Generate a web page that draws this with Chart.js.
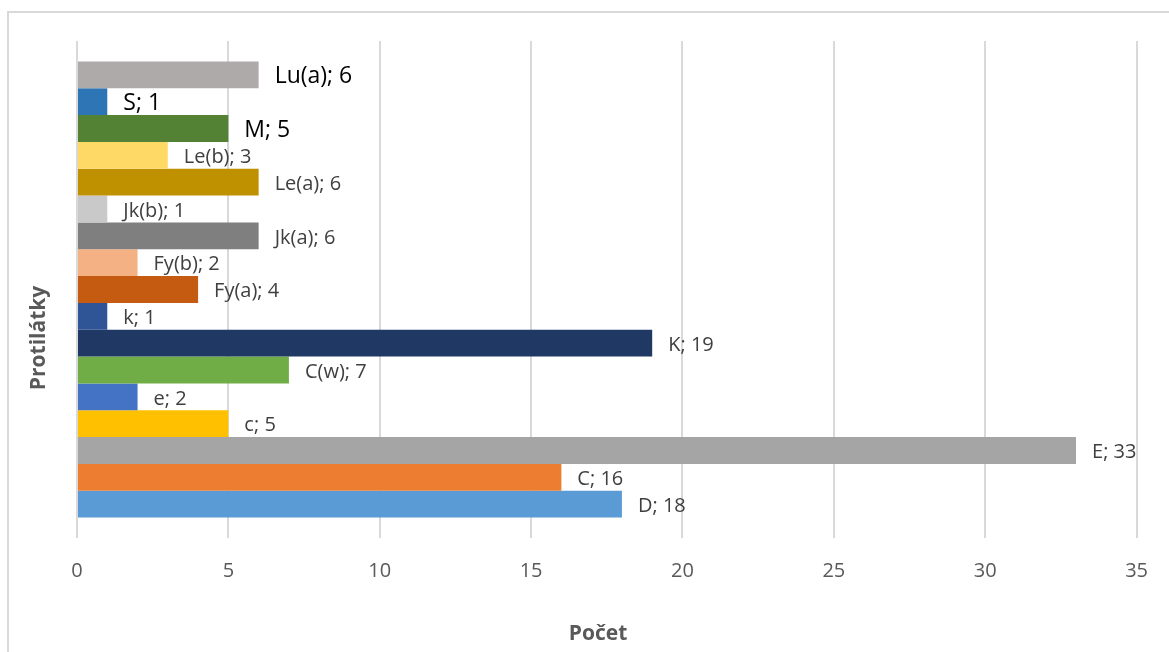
<!DOCTYPE html>
<html>
<head>
<meta charset="utf-8">
<script src="https://cdn.jsdelivr.net/npm/chart.js@4/dist/chart.umd.min.js"></script>
<style>
  html, body { margin: 0; padding: 0; background: #fff; }
  #wrap { width: 1169px; height: 652px; }
</style>
</head>
<body>
<div id="wrap"><canvas id="chart" width="1169" height="652"></canvas></div>
<script>
// DATA (Excel series order, bottom bar first)
const antibodies = ['D', 'C', 'E', 'c', 'e', 'C(w)', 'K', 'k', 'Fy(a)', 'Fy(b)', 'Jk(a)', 'Jk(b)', 'Le(a)', 'Le(b)', 'M', 'S', 'Lu(a)'];
const counts = [18, 16, 33, 5, 2, 7, 19, 1, 4, 2, 6, 1, 6, 3, 5, 1, 6];
const xTicks = [0, 5, 10, 15, 20, 25, 30, 35];

// colours, one per series
const barColors = ['#5B9BD5', '#ED7D31', '#A5A5A5', '#FFC000', '#4472C4', '#70AD47', '#203864', '#2F5597',
                   '#C55A11', '#F4B183', '#7F7F7F', '#C9C9C9', '#BF9000', '#FFD966', '#548235', '#2E75B6', '#AEAAAA'];
// labels that were enlarged in the original
const bigLabels = ['Lu(a)', 'S', 'M'];

const FONT = '"Open Sans", "Liberation Sans", sans-serif';

// Chart.js stacks grouped bars from the top, so reverse to keep D at the bottom
const datasets = antibodies.map((name, i) => ({
    label: name,
    data: [counts[i]],
    backgroundColor: barColors[i],
    borderWidth: 0
})).reverse();

// BORDER + AXIS TITLES + DATA LABELS
const decorPlugin = {
    id: 'decor',
    beforeDraw(chart) {
        const ctx = chart.ctx;
        ctx.save();
        ctx.fillStyle = '#fff';
        ctx.fillRect(0, 0, chart.width, chart.height);
        ctx.strokeStyle = '#D9D9D9';
        ctx.lineWidth = 2;
        ctx.strokeRect(8, 12, chart.width + 20, chart.height + 20);
        ctx.restore();
    },
    afterDraw(chart) {
        const ctx = chart.ctx;
        ctx.save();
        ctx.fillStyle = '#595959';
        ctx.font = 'bold 21px ' + FONT;
        ctx.textAlign = 'center';
        ctx.textBaseline = 'middle';
        ctx.fillText('Počet', 598, 634);
        ctx.translate(39, 338);
        ctx.rotate(-Math.PI / 2);
        ctx.fillText('Protilátky', 0, 0);
        ctx.restore();
    },
    afterDatasetsDraw(chart) {
        const ctx = chart.ctx;
        ctx.save();
        ctx.textAlign = 'left';
        ctx.textBaseline = 'middle';
        chart.data.datasets.forEach((ds, i) => {
            const bar = chart.getDatasetMeta(i).data[0];
            const big = bigLabels.includes(ds.label);
            ctx.font = (big ? '23px ' : '20px ') + FONT;
            ctx.fillStyle = big ? '#000000' : '#404040';
            ctx.fillText(ds.label + '; ' + ds.data[0], bar.x + 16, bar.y + 2);
        });
        ctx.restore();
    }
};

new Chart(document.getElementById('chart'), {
    type: 'bar',
    data: { labels: [''], datasets },
    options: {
        indexAxis: 'y',
        responsive: false,
        animation: false,
        barPercentage: 1,
        categoryPercentage: 0.918,
        layout: { padding: { top: 41, right: 31, left: 0, bottom: 0 } },
        plugins: { legend: { display: false }, tooltip: { enabled: false } },
        scales: {
            x: {
                min: 0,
                max: 35,
                afterBuildTicks: scale => { scale.ticks = xTicks.map(v => ({ value: v })); },
                afterFit: scale => { scale.height = 114; },
                grid: { color: '#D9D9D9', lineWidth: 2, drawTicks: false },
                border: { display: false },
                ticks: { color: '#595959', font: { family: FONT, size: 20 }, padding: 21 }
            },
            y: {
                afterFit: scale => { scale.width = 77; },
                grid: { display: false },
                border: { display: false },
                ticks: { display: false }
            }
        }
    },
    plugins: [decorPlugin]
});
</script>
</body>
</html>
